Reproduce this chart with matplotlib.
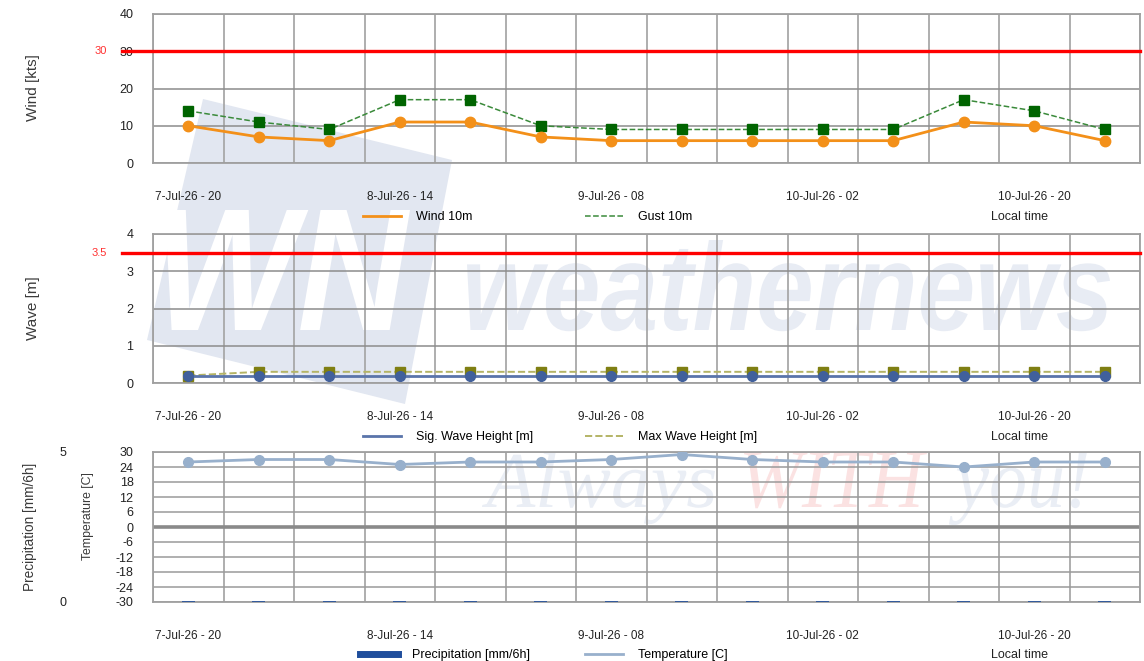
import numpy as np
import matplotlib
matplotlib.use("Agg")
import matplotlib.pyplot as plt
import matplotlib.transforms as mtransforms
from matplotlib.lines import Line2D
from matplotlib.patches import Polygon, PathPatch
from matplotlib.textpath import TextPath
from matplotlib.font_manager import FontProperties

plt.rcParams['font.family'] = ['Liberation Sans', 'DejaVu Sans']
plt.rcParams['axes.unicode_minus'] = False

# data
times = ['7-Jul-26 - 20', '8-Jul-26 - 02', '8-Jul-26 - 08', '8-Jul-26 - 14', '8-Jul-26 - 20',
         '9-Jul-26 - 02', '9-Jul-26 - 08', '9-Jul-26 - 14', '9-Jul-26 - 20', '10-Jul-26 - 02',
         '10-Jul-26 - 08', '10-Jul-26 - 14', '10-Jul-26 - 20', '11-Jul-26 - 02']
wind = [10, 7, 6, 11, 11, 7, 6, 6, 6, 6, 6, 11, 10, 6]
gust = [14, 11, 9, 17, 17, 10, 9, 9, 9, 9, 9, 17, 14, 9]
sig_wave = [0.2] * 14
max_wave = [0.2, 0.3, 0.3, 0.3, 0.3, 0.3, 0.3, 0.3, 0.3, 0.3, 0.3, 0.3, 0.3, 0.3]
temperature = [26, 27, 27, 25, 26, 26, 27, 29, 27, 26, 26, 24, 26, 26]
precip = [0] * 14
wind_limit = 30
wave_limit = 3.5

W, H = 1144, 661
fig = plt.figure(figsize=(W / 100, H / 100), dpi=100)
ident = mtransforms.IdentityTransform()

# ---- watermark (behind the axes) ----
logo = Polygon([(203, H - 99), (452, H - 160), (405, H - 404), (147, H - 340)],
               closed=True, facecolor='#e2e7f1', edgecolor='none', transform=ident, zorder=-5)
fig.add_artist(logo)


def fit_word(s, prop, x0, x1, top, base, color, z=-4):
    tp = TextPath((0, 0), s, size=100, prop=prop)
    ext = tp.get_extents()
    sx = (x1 - x0) / ext.width
    sy = (base - top) / ext.y1
    tr = mtransforms.Affine2D().translate(-ext.x0, 0).scale(sx, sy).translate(x0, H - base)
    fig.add_artist(PathPatch(tr.transform_path(tp), facecolor=color, edgecolor='none',
                             transform=ident, zorder=z))


bold_it = FontProperties(family='Liberation Sans', weight='bold', style='italic')
fit_word('WN', bold_it, 165, 410, 210, 330, 'white', z=-4)
fit_word('weathernews', bold_it, 467, 1110, 240, 330, '#e8ecf4')
serif_it = FontProperties(family='Liberation Serif', style='italic')
fit_word('Always', serif_it, 482, 715, 452, 507, '#eaeef5')
fit_word('WITH', serif_it, 744, 927, 452, 507, '#fbe2e2')
fit_word('you!', serif_it, 949, 1087, 452, 507, '#eaeef5')


def ax_rect(top, bottom):
    return [153 / W, 1 - bottom / H, 987 / W, (bottom - top) / H]


x = np.arange(len(times)) + 0.5
label_font = ['Liberation Sans Narrow', 'Liberation Sans', 'DejaVu Sans']


def style_axes(ax, ymin, ymax, yticks, hgrid_color='#8c8c8c'):
    ax.set_facecolor('none')
    ax.set_xlim(0, len(times))
    ax.set_ylim(ymin, ymax)
    ax.set_yticks(yticks)
    ax.set_xticks(x[::3])
    ax.set_xticklabels(times[::3])
    ax.set_xticks(np.arange(len(times) + 1), minor=True)
    ax.grid(which='minor', axis='x', color='#a8a8a8', lw=1.3)
    ax.grid(which='major', axis='y', color=hgrid_color, lw=1.1)
    ax.grid(which='major', axis='x', visible=False)
    ax.tick_params(axis='both', which='both', length=0)
    ax.tick_params(axis='x', pad=20, labelsize=8.5, colors='#222222')
    ax.tick_params(axis='y', pad=14, labelsize=9, colors='#222222')
    for sp in ax.spines.values():
        sp.set_color('#a0a0a0')
        sp.set_linewidth(1.3)
    ax.set_axisbelow(True)


def limit_line(ax, value, text):
    ax.axhline(value, xmin=-0.0314, xmax=1, color='#ff0000', lw=2.4, clip_on=False, zorder=3)
    ax.text(-0.0466, value, text, color='#ff3030', fontsize=8, ha='right', va='center',
            transform=ax.get_yaxis_transform())


def legend_entry(handle, label, px, py):
    fig.legend([handle], [label], loc='center left', bbox_to_anchor=(px / W, 1 - py / H),
               frameon=False, borderpad=0, borderaxespad=0, handlelength=3.0,
               handletextpad=1.2, fontsize=9)


def local_time(py):
    fig.text(991 / W, 1 - py / H, 'Local time', fontsize=9, ha='left', va='center', color='#222222')


def side_label(px, py, text, size):
    fig.text(px / W, 1 - py / H, text, rotation=90, ha='center', va='center',
             fontsize=size, family=label_font, color='#3a3a3a')


# ---- wind ----
ax1 = fig.add_axes(ax_rect(14, 163))
style_axes(ax1, 0, 40, [0, 10, 20, 30, 40])
ax1.plot(x, gust, ls='--', color='#3a8a3a', lw=1.1, marker='s', ms=7.5,
         mfc='#006400', mec='#006400', zorder=4)
ax1.plot(x, wind, color='#f39019', lw=2, marker='o', ms=7.5, mfc='#f39019', mec='#f39019', zorder=5)
limit_line(ax1, wind_limit, str(wind_limit))
side_label(33, 88, 'Wind [kts]', 11)
legend_entry(Line2D([], [], color='#f39019', lw=2), 'Wind 10m', 363, 217)
legend_entry(Line2D([], [], color='#3a8a3a', lw=1.1, ls='--'), 'Gust 10m', 585, 217)
local_time(217)

# ---- wave ----
ax2 = fig.add_axes(ax_rect(234, 383))
style_axes(ax2, 0, 4, [0, 1, 2, 3, 4])
ax2.plot(x, max_wave, ls='--', color='#b4b466', lw=1.4, marker='s', ms=7,
         mfc='#7f7f12', mec='#7f7f12', zorder=4)
ax2.plot(x, sig_wave, color='#5a74aa', lw=2, marker='o', ms=7, mfc='#41609c', mec='#41609c', zorder=5)
limit_line(ax2, wave_limit, str(wave_limit))
side_label(33, 308, 'Wave [m]', 11)
legend_entry(Line2D([], [], color='#5a74aa', lw=2), 'Sig. Wave Height [m]', 363, 437)
legend_entry(Line2D([], [], color='#b4b466', lw=1.4, ls='--'), 'Max Wave Height [m]', 585, 437)
local_time(437)

# ---- precipitation / temperature ----
ax3 = fig.add_axes(ax_rect(452, 602))
style_axes(ax3, -30, 30, np.arange(-30, 31, 6), hgrid_color='#9a9a9a')
ax3.axhline(0, color='#8a8a8a', lw=2.6, zorder=1)
ax3.plot(x, temperature, color='#98b0cc', lw=2, marker='o', ms=7,
         mfc='#98b0cc', mec='#98b0cc', zorder=5)
ax4 = ax3.twinx()
ax4.set_ylim(0, 5)
ax4.set_yticks([0, 5])
ax4.yaxis.tick_left()
ax4.tick_params(axis='y', length=0, pad=62, labelsize=9, colors='#222222')
ax4.bar(x, precip, width=0.18, color='#1f4e9c', edgecolor='#1f4e9c', lw=1.2, zorder=3)
for sp in ax4.spines.values():
    sp.set_visible(False)
side_label(30, 527, 'Precipitation [mm/6h]', 9.8)
side_label(88, 516, 'Temperature [C]', 8.8)
legend_entry(Line2D([], [], color='#1f4e9c', lw=5), 'Precipitation [mm/6h]', 360, 655)
legend_entry(Line2D([], [], color='#98b0cc', lw=2), 'Temperature [C]', 585, 655)
local_time(655)

fig.savefig('out.png', dpi=100)
